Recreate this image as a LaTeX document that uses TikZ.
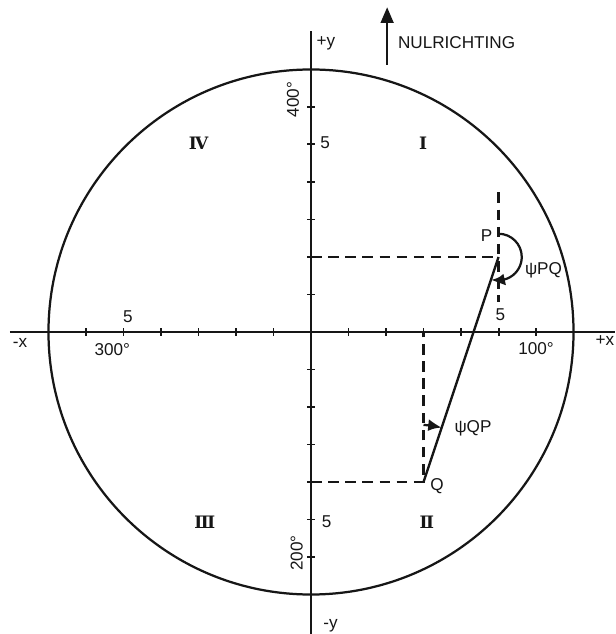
\documentclass[tikz,border=0pt]{standalone}
\usepackage{fontspec}
\setmainfont{Liberation Sans}
\newfontfamily\romfont{DejaVu Serif}
\usetikzlibrary{arrows.meta,bending}
\definecolor{inkBlack}{HTML}{161616}
\tikzset{
  >={Latex[length=3.6mm,width=3.2mm]},
  axis/.style={draw=inkBlack, line width=1.8pt},
  rim/.style={draw=inkBlack, line width=1.7pt},
  aux/.style={draw=inkBlack, line width=1.7pt, dash pattern=on 8pt off 5pt},
  tickmark/.style={draw=inkBlack, line width=1.5pt},
  turn/.style={-{Latex[length=3.6mm,width=3.2mm,bend]}, draw=inkBlack, line width=1.7pt},
  lbl/.style={font=\fontsize{13}{15}\selectfont, text=inkBlack, inner sep=1pt},
  quad/.style={font=\romfont\bfseries\fontsize{13}{15}\selectfont, text=inkBlack, inner sep=1pt},
}
\begin{document}
\begin{tikzpicture}
        \useasboundingbox (-8.293,-8.053) rectangle (8.107,8.853);
        % axes and the circle
        \coordinate (O) at (0,0);
        \coordinate (xl) at (-8.03,0);
        \coordinate (xr) at (8.107,0);
        \coordinate (yb) at (0,-8.053);
        \coordinate (yt) at (0,8.03);
        \draw[axis] (xl) -- (xr);
        \draw[axis] (yb) -- (yt);
        \draw[rim] (O) circle (7);
        \foreach \i in {-6,-5,-4,-3,-2,-1,1,2,3,4,5,6}{
          \draw[tickmark] (\i,-0.1) -- (\i,0.1);
          \draw[tickmark] (-0.1,\i) -- (0.1,\i);}
        % axis labels
        \node[lbl] (px) at (7.84,-0.24) {+x};
        \node[lbl] (mx) at (-7.76,-0.29) {-x};
        \node[lbl] (py) at (0.4,7.71) {+y};
        \node[lbl] (my) at (0.52,-7.84) {-y};
        \node[lbl] (x5l) at (-4.88,0.42) {5};
        \node[lbl] (g300) at (-5.3,-0.47) {300°};
        \node[lbl] (x5r) at (5.05,0.45) {5};
        \node[lbl] (g100) at (6.0,-0.43) {100°};
        \node[lbl] (y5t) at (0.38,5.04) {5};
        \node[lbl,rotate=90] (g400) at (-0.48,6.2) {400°};
        \node[lbl] (y5b) at (0.42,-5.07) {5};
        \node[lbl,rotate=90] (g200) at (-0.38,-5.9) {200°};
        % quadrants
        \node[quad] (qI) at (2.99,5.04) {Ⅰ};
        \node[quad] (qII) at (3.09,-5.07) {Ⅱ};
        \node[quad] (qIII) at (-2.83,-5.07) {Ⅲ};
        \node[quad] (qIV) at (-3.0,5.04) {Ⅳ};
        % north direction
        \coordinate (n0) at (2.03,7.12);
        \coordinate (n1) at (2.03,8.66);
        \draw[axis,-{Triangle[length=4.2mm,width=3.4mm]}] (n0) -- (n1);
        \node[lbl,anchor=west] (nul) at (2.28,7.71) {NULRICHTING};
        % P and Q with their projections
        \coordinate (P) at (5,2);
        \coordinate (Q) at (3,-4);
        \coordinate (Py) at (0,2);
        \coordinate (Px) at (5,0.8);
        \coordinate (Pn) at (5,3.72);
        \coordinate (Qy) at (0,-4);
        \coordinate (Qx) at (3,0);
        \draw[aux] (Py) -- (P);
        \draw[aux] (Pn) -- (Px);
        \draw[aux] (Qy) -- (Q) -- (Qx);
        \draw[axis] (P) -- (Q);
        \node[lbl] (Plbl) at (4.68,2.56) {P};
        \node[lbl] (Qlbl) at (3.36,-4.12) {Q};
        % bearings
        \draw[turn] ([shift={(90:0.62)}]P) arc[start angle=90, end angle=-108, radius=0.62];
        \draw[turn] ([shift={(90:1.52)}]Q) arc[start angle=90, end angle=71.6, radius=1.52];
        \node[lbl] (psiPQ) at (6.2,1.65) {ψPQ};
        \node[lbl] (psiQP) at (4.32,-2.56) {ψQP};
      \end{tikzpicture}
\end{document}
